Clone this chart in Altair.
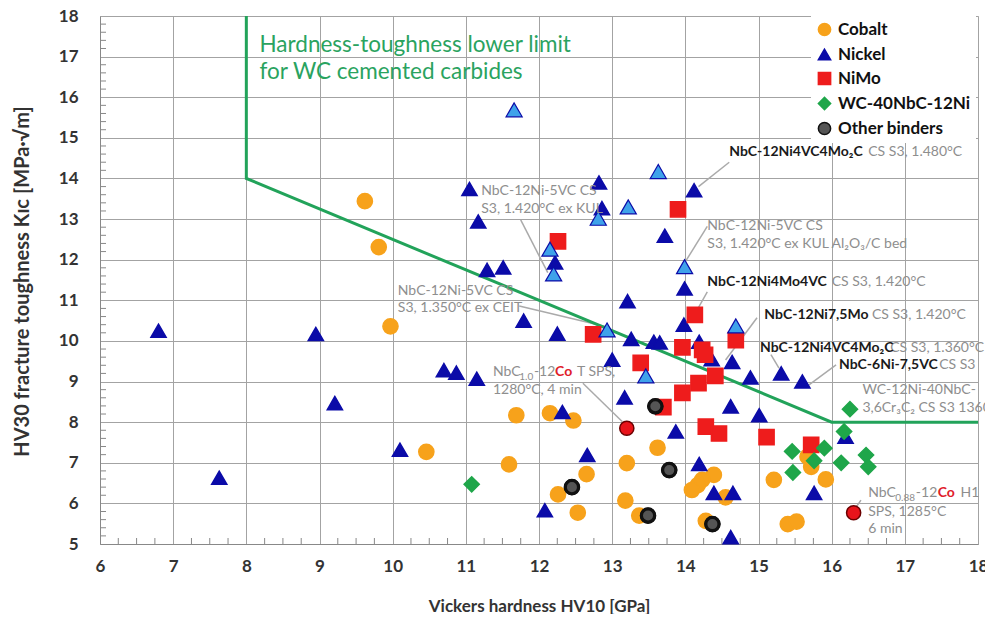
import altair as alt
import pandas as pd
import numpy as np

# ---------------- data ----------------
series_names = ["Cobalt", "Nickel", "NiMo", "WC-40NbC-12Ni", "Other binders"]
fill_colors = ["#F7A21B", "#0B0BA8", "#EE1C1C", "#1FA64A", "#555555"]
stroke_colors = ["#F7A21B", "#0B0BA8", "#EE1C1C", "#1FA64A", "#111111"]
shapes = ["circle", "triangle-up", "square", "diamond", "circle"]

cobalt_x = [9.62, 9.81, 9.97, 10.46, 11.69, 11.59, 12.15, 12.47, 12.26, 12.53, 12.65, 13.20, 13.18, 13.37,
            13.62, 14.39, 14.23, 14.17, 14.09, 14.55, 14.28, 15.21, 15.40, 15.52, 15.92, 15.72, 15.67]
cobalt_y = [13.44, 12.31, 10.36, 7.27, 8.17, 6.96, 8.22, 8.04, 6.22, 5.77, 6.72, 6.99, 6.07, 5.70,
            7.37, 6.70, 6.58, 6.45, 6.33, 6.15, 5.57, 6.58, 5.49, 5.55, 6.59, 6.90, 7.15]

nickel_x = [6.80, 7.63, 8.95, 9.21, 10.10, 10.70, 10.87, 11.05, 11.17, 11.15, 11.29, 11.51, 11.79, 12.08,
            12.22, 12.25, 12.32, 12.66, 12.82, 12.86, 13.00, 13.17, 13.21, 13.26, 13.57, 13.65, 13.72,
            13.87, 13.98, 13.99, 14.12, 14.19, 14.19, 14.36, 14.39, 14.62, 14.64, 14.65, 14.62, 14.89,
            15.01, 15.31, 15.60, 15.76, 16.19]
nickel_y = [10.25, 6.63, 10.17, 8.47, 7.32, 9.28, 9.22, 13.74, 12.94, 9.07, 11.75, 11.81, 10.50, 5.83,
            11.93, 10.18, 8.25, 7.19, 13.90, 13.27, 9.54, 8.61, 10.98, 10.05, 9.98, 9.96, 12.59,
            7.77, 10.40, 11.29, 13.71, 9.98, 6.97, 9.55, 6.26, 8.39, 9.48, 6.26, 5.17, 9.10,
            8.17, 9.20, 9.00, 6.26, 7.64]

nickel_var_x = [11.66, 12.15, 12.20, 12.81, 12.93, 13.22, 13.46, 13.63, 13.99, 14.69]
nickel_var_y = [15.69, 12.26, 11.65, 13.02, 10.27, 13.30, 9.14, 14.17, 11.83, 10.37]

nimo_x = [12.26, 12.74, 13.39, 13.70, 13.90, 13.96, 13.96, 14.13, 14.18, 14.23, 14.27, 14.28, 14.41,
          14.46, 14.69, 15.11, 15.72]
nimo_y = [12.45, 10.16, 9.46, 8.37, 13.24, 9.84, 8.72, 10.64, 8.96, 9.78, 9.66, 7.89, 9.14,
          7.72, 10.02, 7.63, 7.44]

wc_x = [11.08, 15.46, 15.47, 15.76, 15.90, 16.13, 16.17, 16.25, 16.47, 16.50]
wc_y = [6.47, 7.28, 6.76, 7.05, 7.36, 7.00, 7.77, 8.32, 7.19, 6.90]

other_x = [12.45, 13.59, 13.78, 13.49, 14.37]
other_y = [6.40, 8.39, 6.82, 5.70, 5.49]

co_sps_x = [13.20, 16.30]
co_sps_y = [7.85, 5.77]

limit_x = [8, 8, 16, 18]
limit_y = [18, 14, 8, 8]

# annotations
bold_text = ["NbC-12Ni4VC4Mo\u2082C", "NbC-12Ni4Mo4VC", "NbC-12Ni7,5Mo", "NbC-12Ni4VC4Mo\u2082C", "NbC-6Ni-7,5VC"]
bold_x = [14.60, 14.30, 15.08, 15.02, 16.10]
bold_y = [14.65, 11.46, 10.64, 9.82, 9.41]

gray_text = ["CS S3, 1.480\u00b0C", "CS S3, 1.420\u00b0C", "CS S3, 1.420\u00b0C", "CS S3, 1.360\u00b0C", "CS S3",
             "NbC-12Ni-5VC CS", "S3, 1.420\u00b0C  ex KUL",
             "NbC-12Ni-5VC CS", "S3, 1.420\u00b0C  ex KUL Al\u2082O\u2083/C bed",
             "NbC-12Ni-5VC CS", "S3, 1.350\u00b0C  ex CEIT",
             "WC-12Ni-40NbC-", "3,6Cr\u2083C\u2082 CS S3 1360\u00b0C",
             "NbC", "-12", "T SPS,", "1280\u00b0C, 4 min",
             "NbC", "-12", "H1", "SPS, 1285\u00b0C", "6 min"]
gray_x = [16.50, 16.00, 16.55, 16.80, 17.47,
          11.21, 11.21,
          14.30, 14.30,
          10.07, 10.07,
          16.42, 16.42,
          11.37, 11.93, 12.52, 11.37,
          16.50, 17.15, 17.76, 16.50, 16.50]
gray_y = [14.65, 11.46, 10.64, 9.82, 9.41,
          13.68, 13.25,
          12.83, 12.38,
          11.24, 10.81,
          8.79, 8.34,
          9.24, 9.24, 9.24, 8.79,
          6.25, 6.25, 6.25, 5.80, 5.36]

sub_text = ["1.0", "0.88"]
sub_x = [11.73, 16.87]
sub_y = [9.24, 6.25]

red_text = ["Co", "Co"]
red_x = [12.22, 17.45]
red_y = [9.24, 6.25]

green_text = ["Hardness-toughness lower limit", "for WC cemented carbides"]
green_x = [8.18, 8.18]
green_y = [17.29, 16.63]

lead_x = [14.18, 11.75, 14.30, 11.73, 14.30, 14.98, 15.17, 16.06, 12.60, 16.31]
lead_y = [13.80, 12.98, 12.82, 10.86, 11.21, 10.57, 9.66, 9.41, 8.96, 5.84]
lead_x2 = [14.60, 12.12, 14.00, 12.92, 14.16, 14.55, 15.28, 15.69, 13.14, 16.40]
lead_y2 = [14.40, 11.68, 11.95, 10.35, 10.76, 9.53, 9.33, 8.92, 8.01, 6.08]

# ---------------- tables ----------------
rows = []
for name, xs, ys in [("Cobalt", cobalt_x, cobalt_y), ("Nickel", nickel_x, nickel_y),
                     ("NiMo", nimo_x, nimo_y), ("WC-40NbC-12Ni", wc_x, wc_y),
                     ("Other binders", other_x, other_y)]:
    for a, b in zip(xs, ys):
        rows.append({"x": a, "y": b, "series": name})
pts = pd.DataFrame(rows)

W, H = 878, 528
FONT = "Lato"

x_scale = alt.Scale(domain=[6, 18], nice=False, zero=False)
y_scale = alt.Scale(domain=[5, 18], nice=False, zero=False)

x_axis = alt.Axis(values=list(range(6, 19)), title="Vickers hardness HV10 [GPa]",
                  labelFontSize=17, labelFontWeight="bold", labelColor="#333333",
                  titleFontSize=17, titleFontWeight="bold", titleColor="#333333",
                  grid=True, gridColor="#a3a3a3", gridWidth=1, domainColor="#888888",
                  tickSize=0, labelPadding=14, titleY=62, titleBaseline="middle",
                  labelFont=FONT, titleFont=FONT, labelFlush=False)
y_axis = alt.Axis(values=list(range(5, 19)), title="HV30 fracture toughness K\u026a\u1d04 [MPa\u00b7\u221am]",
                  labelFontSize=17, labelFontWeight="bold", labelColor="#333333",
                  titleFontSize=20, titleFontWeight="bold", titleColor="#333333",
                  grid=True, gridColor="#a3a3a3", gridWidth=1, domainColor="#888888",
                  tickSize=0, labelPadding=22, titleX=-78, titleY=265, titleBaseline="middle",
                  titleAlign="center", titleAngle=270, labelFont=FONT, titleFont=FONT, labelFlush=False)


def X(f="x"):
    return alt.X(f, type="quantitative", scale=x_scale, axis=x_axis)


def Y(f="y"):
    return alt.Y(f, type="quantitative", scale=y_scale, axis=y_axis)


# minor ticks
xminor = pd.DataFrame({"x": [v for v in np.arange(6, 18.001, 0.25) if abs(v - round(v)) > 1e-6]})
yminor = pd.DataFrame({"y": [v for v in np.arange(5, 18.001, 0.2) if abs(v - round(v)) > 1e-6]})
xt = alt.Chart(xminor).mark_rule(color="#888888", strokeWidth=1).encode(
    x=X(), y=alt.value(H), y2=alt.value(H - 6))
yt = alt.Chart(yminor).mark_rule(color="#888888", strokeWidth=1).encode(
    y=Y(), x=alt.value(0), x2=alt.value(6))

limit = alt.Chart(pd.DataFrame({"x": limit_x, "y": limit_y, "i": range(4)})).mark_line(
    color="#22A35A", strokeWidth=3).encode(x=X(), y=Y(), order="i:Q")

leg = alt.Legend(title=None, orient="none", legendX=711, legendY=0, fillColor="white",
                 padding=5, labelFontSize=17, labelFontWeight="bold", labelColor="#111111",
                 labelFont=FONT, symbolSize=150, rowPadding=6, symbolStrokeWidth=1.5, labelOffset=5)

points = alt.Chart(pts).mark_point(filled=True, opacity=1, strokeWidth=1.5, size=230).encode(
    x=X(), y=Y(),
    fill=alt.Fill("series:N", scale=alt.Scale(domain=series_names, range=fill_colors), legend=leg),
    stroke=alt.Stroke("series:N", scale=alt.Scale(domain=series_names, range=stroke_colors), legend=leg),
    shape=alt.Shape("series:N", scale=alt.Scale(domain=series_names, range=shapes), legend=leg),
)

others_outline = alt.Chart(pd.DataFrame({"x": other_x, "y": other_y})).mark_point(
    filled=True, fill="#555555", stroke="#111111", strokeWidth=3, size=170, shape="circle", opacity=1
).encode(x=X(), y=Y())

nickel_var = alt.Chart(pd.DataFrame({"x": nickel_var_x, "y": nickel_var_y})).mark_point(
    filled=True, fill="#3FA2EA", stroke="#0B0BA8", strokeWidth=1.2, size=260, shape="triangle-up", opacity=1
).encode(x=X(), y=Y())

co_sps = alt.Chart(pd.DataFrame({"x": co_sps_x, "y": co_sps_y})).mark_point(
    filled=True, fill="#E8141B", stroke="#6B0000", strokeWidth=1.5, size=200, shape="circle", opacity=1
).encode(x=X(), y=Y())

leaders = alt.Chart(pd.DataFrame({"x": lead_x, "y": lead_y, "x2": lead_x2, "y2": lead_y2})).mark_rule(
    color="#AAAAAA", strokeWidth=1.5).encode(x=X(), y=Y(), x2="x2:Q", y2="y2:Q")

txt_gray = alt.Chart(pd.DataFrame({"x": gray_x, "y": gray_y, "t": gray_text})).mark_text(
    align="left", baseline="middle", fontSize=14, color="#8E8E8E", font=FONT).encode(
    x=X(), y=Y(), text="t:N")
txt_sub = alt.Chart(pd.DataFrame({"x": sub_x, "y": sub_y, "t": sub_text})).mark_text(
    align="left", baseline="middle", fontSize=10, dy=5, color="#8E8E8E", font=FONT).encode(
    x=X(), y=Y(), text="t:N")
txt_bold = alt.Chart(pd.DataFrame({"x": bold_x, "y": bold_y, "t": bold_text})).mark_text(
    align="left", baseline="middle", fontSize=14, fontWeight="bold", color="#1A1A1A", font=FONT).encode(
    x=X(), y=Y(), text="t:N")
txt_red = alt.Chart(pd.DataFrame({"x": red_x, "y": red_y, "t": red_text})).mark_text(
    align="left", baseline="middle", fontSize=14, fontWeight="bold", color="#E0202A", font=FONT).encode(
    x=X(), y=Y(), text="t:N")
txt_green = alt.Chart(pd.DataFrame({"x": green_x, "y": green_y, "t": green_text})).mark_text(
    align="left", baseline="middle", fontSize=22.5, color="#2AA35F", font=FONT).encode(
    x=X(), y=Y(), text="t:N")

chart = alt.layer(
    xt, yt, leaders, limit, points, others_outline, nickel_var, co_sps,
    txt_gray, txt_sub, txt_bold, txt_red, txt_green
).properties(
    width=W, height=H,
    padding={"left": 92, "top": 8, "right": 7, "bottom": 70},
    autosize=alt.AutoSizeParams(type="none"),
).configure_view(stroke="#888888", strokeWidth=1.5).configure(background="white")

chart.save("out.html", embed_options={"renderer": "svg", "actions": False})
